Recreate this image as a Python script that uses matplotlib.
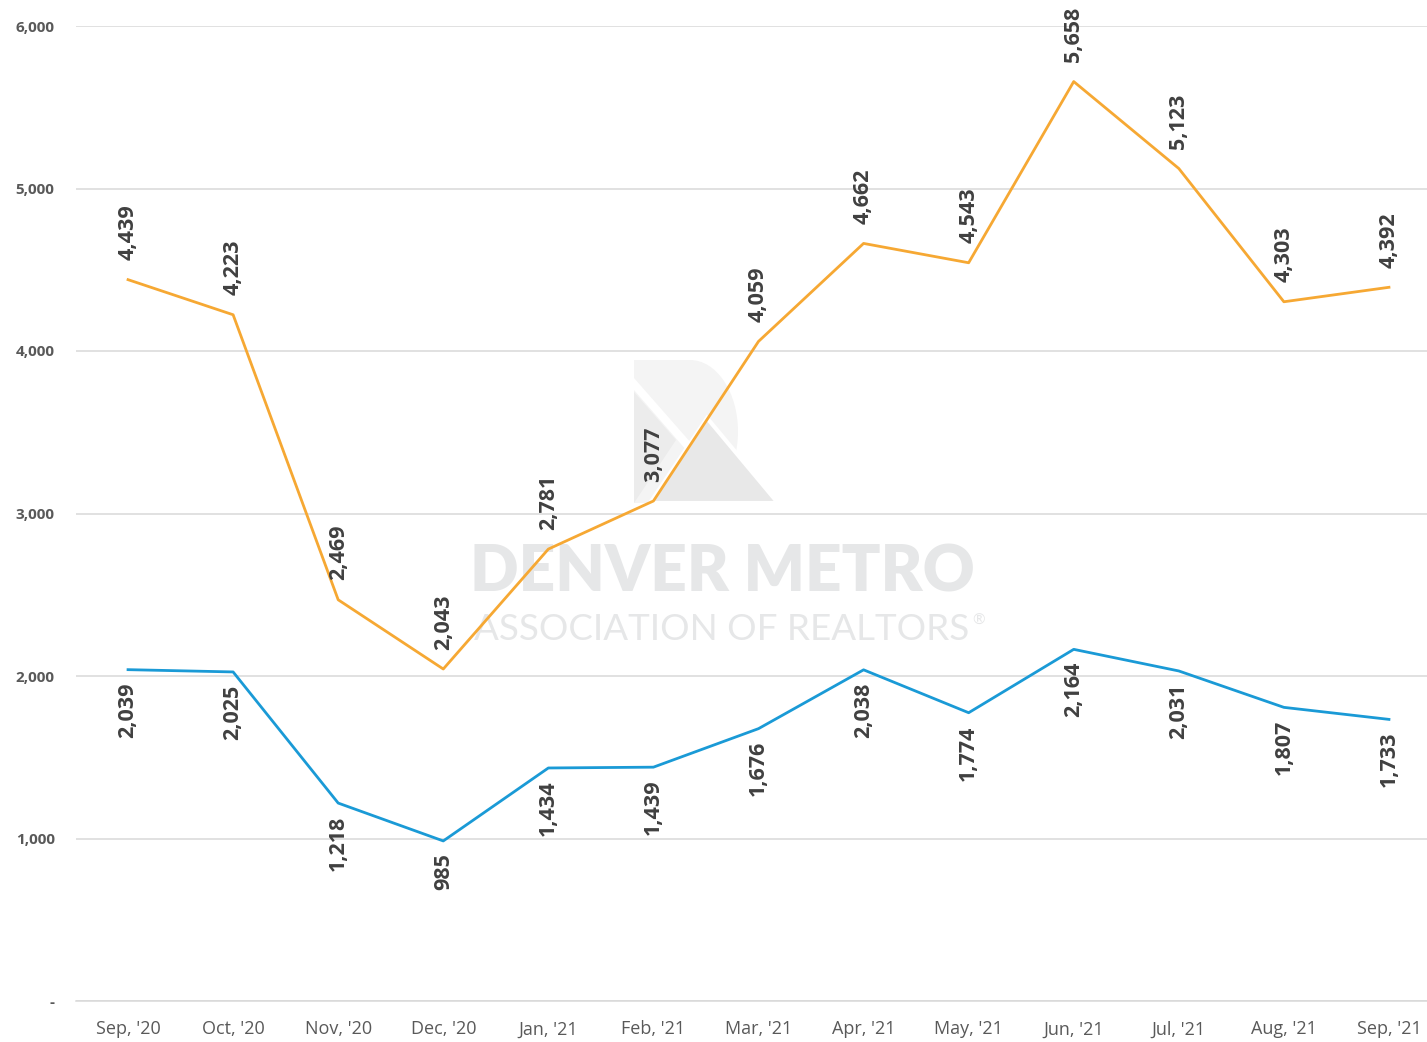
import matplotlib.pyplot as plt
from matplotlib.patches import Polygon, Ellipse, Rectangle
from matplotlib.ticker import FuncFormatter

# data
months = ["Sep, '20", "Oct, '20", "Nov, '20", "Dec, '20", "Jan, '21", "Feb, '21", "Mar, '21",
          "Apr, '21", "May, '21", "Jun, '21", "Jul, '21", "Aug, '21", "Sep, '21"]
orange_vals = [4439, 4223, 2469, 2043, 2781, 3077, 4059, 4662, 4543, 5658, 5123, 4303, 4392]
blue_vals = [2039, 2025, 1218, 985, 1434, 1439, 1676, 2038, 1774, 2164, 2031, 1807, 1733]

ORANGE = "#F6A833"
BLUE = "#1A9AD6"
LABEL_C = "#404040"

plt.rcParams['font.family'] = ['Open Sans', 'DejaVu Sans']

fig = plt.figure(figsize=(14.27, 10.42), dpi=100)
ax = fig.add_axes([75.5 / 1427, 41 / 1042, 1366 / 1427, 975 / 1042])

# watermark (behind everything), pixel coords
wm = fig.add_axes([0, 0, 1, 1], zorder=0)
wm.set_xlim(0, 1427)
wm.set_ylim(1042, 0)
wm.axis("off")
wm.add_patch(Rectangle((634, 360), 56, 143, color="#f4f4f4", lw=0))
wm.add_patch(Ellipse((690, 431.5), 96, 143, color="#f4f4f4", lw=0))
wm.add_patch(Rectangle((620, 360), 14, 143, color="white", lw=0))
wm.add_patch(Polygon([[634, 392], [676, 440], [634, 503]], closed=True, color="#ececec", lw=0))
wm.add_patch(Polygon([[634, 378], [706, 460], [700, 466], [634, 390]], closed=True,
                     color="white", lw=0))
wm.add_patch(Polygon([[650, 503], [707, 418], [778, 503]], closed=True,
                     facecolor="#e8e8e8", edgecolor="white", lw=3))
wm.text(722, 573, "DENVER METRO", ha="center", va="center", fontsize=46,
        fontweight="heavy", color="#e6e7e8", family=["Lato", "DejaVu Sans"])
wm.text(722, 630, "ASSOCIATION OF REALTORS", ha="center", va="center", fontsize=26.5,
        color="#e6e7e8", family=["Lato", "DejaVu Sans"])
wm.text(979, 621, "\u00ae", ha="center", va="center", fontsize=11,
        color="#e6e7e8", family=["Lato", "DejaVu Sans"])

ax.set_zorder(1)
ax.patch.set_alpha(0)

x = list(range(len(months)))
ax.plot(x, orange_vals, color=ORANGE, lw=2.0, zorder=3)
ax.plot(x, blue_vals, color=BLUE, lw=2.0, zorder=3)

for i, v in enumerate(orange_vals):
    ax.annotate(f"{v:,}", (i, v), xytext=(0, 14), textcoords="offset points",
                rotation=90, ha="center", va="bottom", fontsize=15.5,
                fontweight="bold", color=LABEL_C, zorder=4)
for i, v in enumerate(blue_vals):
    ax.annotate(f"{v:,}", (i, v), xytext=(0, -9), textcoords="offset points",
                rotation=90, ha="center", va="top", fontsize=15.5,
                fontweight="bold", color=LABEL_C, zorder=4)

ax.set_xlim(-0.5, len(months) - 0.5)
ax.set_ylim(0, 6000)
ax.set_yticks(range(0, 6001, 1000))
ax.yaxis.set_major_formatter(FuncFormatter(lambda v, p: "-" if v == 0 else f"{int(v):,}"))
ax.set_xticks(x)
ax.set_xticklabels(months)
ax.grid(axis="y", color="#d9d9d9", lw=1.1)
ax.set_axisbelow(True)
for s in ["top", "right", "left"]:
    ax.spines[s].set_visible(False)
ax.spines["bottom"].set_color("#d9d9d9")
ax.spines["bottom"].set_linewidth(1.1)
ax.tick_params(axis="both", length=0, colors="#595959")
ax.tick_params(axis="x", labelsize=13, pad=14)
ax.tick_params(axis="y", labelsize=11, pad=15)
for t in ax.get_yticklabels():
    t.set_fontweight("bold")

fig.savefig("out.png", dpi=100)
